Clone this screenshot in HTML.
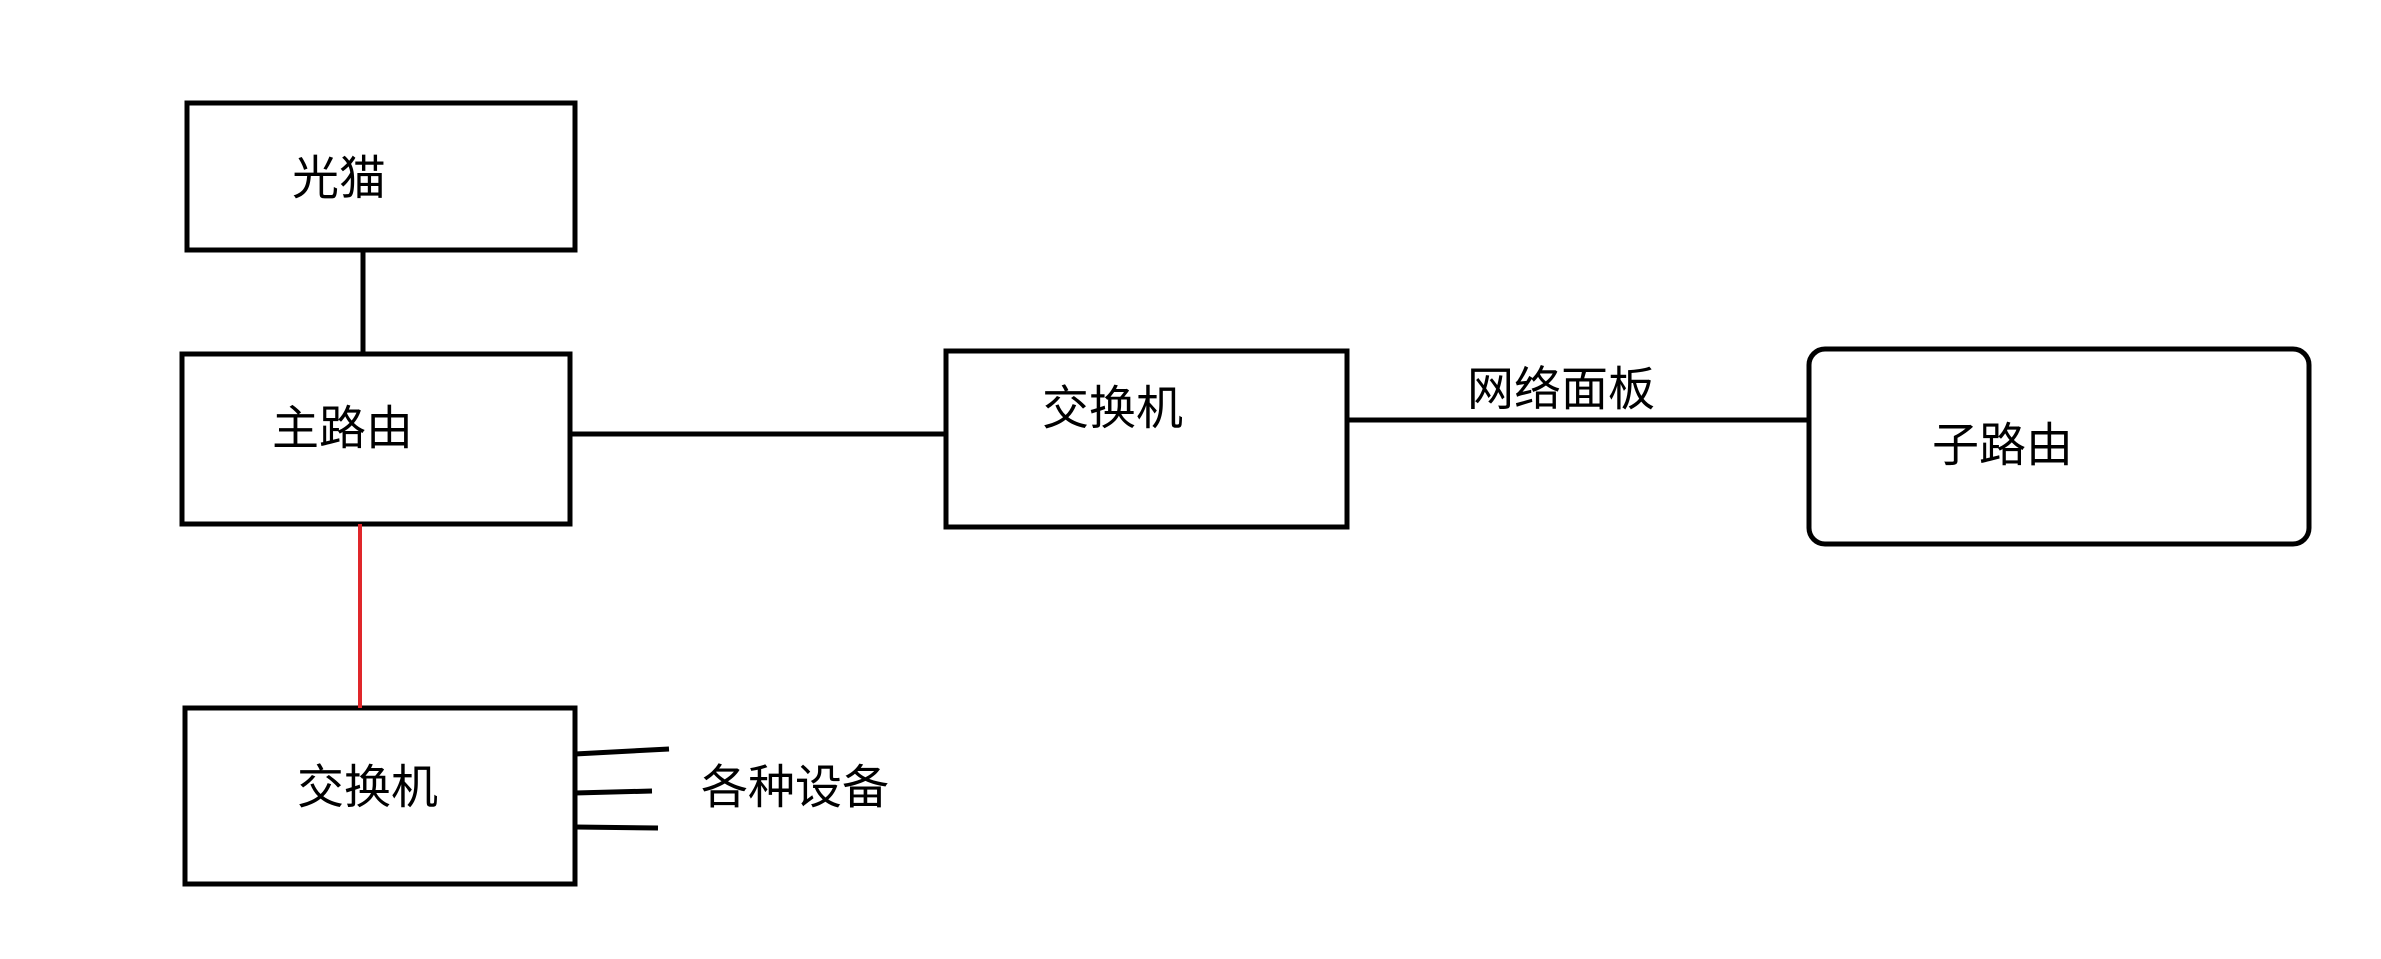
<!DOCTYPE html>
<html><head><meta charset="utf-8"><style>
html,body{margin:0;padding:0;background:#fff;}
body{width:2381px;height:959px;position:relative;overflow:hidden;}
svg{position:absolute;left:0;top:0;}
text{font-family:"Liberation Sans","Noto Sans CJK SC",sans-serif;font-size:47px;fill:#000;dominant-baseline:central;}
</style></head><body>
<svg width="2381" height="959" viewBox="0 0 2381 959">
<g fill="none" stroke="#000" stroke-width="5">
<rect x="187" y="103" width="388" height="147"/>
<line x1="363" y1="250" x2="363" y2="354"/>
<rect x="182" y="354" width="388" height="170"/>
<line x1="570" y1="434" x2="946" y2="434"/>
<rect x="946" y="351" width="401" height="176"/>
<line x1="1347" y1="420" x2="1809" y2="420"/>
<rect x="1809" y="349" width="500" height="195" rx="16"/>
<rect x="185" y="708" width="390" height="176"/>
<line x1="575" y1="754" x2="669" y2="749"/>
<line x1="575" y1="793" x2="652" y2="791"/>
<line x1="575" y1="827" x2="658" y2="828"/>
</g>
<line x1="360" y1="524" x2="360" y2="708" stroke="#e0262a" stroke-width="4"/>
<text x="292" y="178">光猫</text>
<text x="272" y="428">主路由</text>
<text x="1042" y="408">交换机</text>
<text x="1467" y="389">网络面板</text>
<text x="1932" y="445">子路由</text>
<text x="297" y="787">交换机</text>
<text x="701" y="787">各种设备</text>
</svg>
</body></html>
